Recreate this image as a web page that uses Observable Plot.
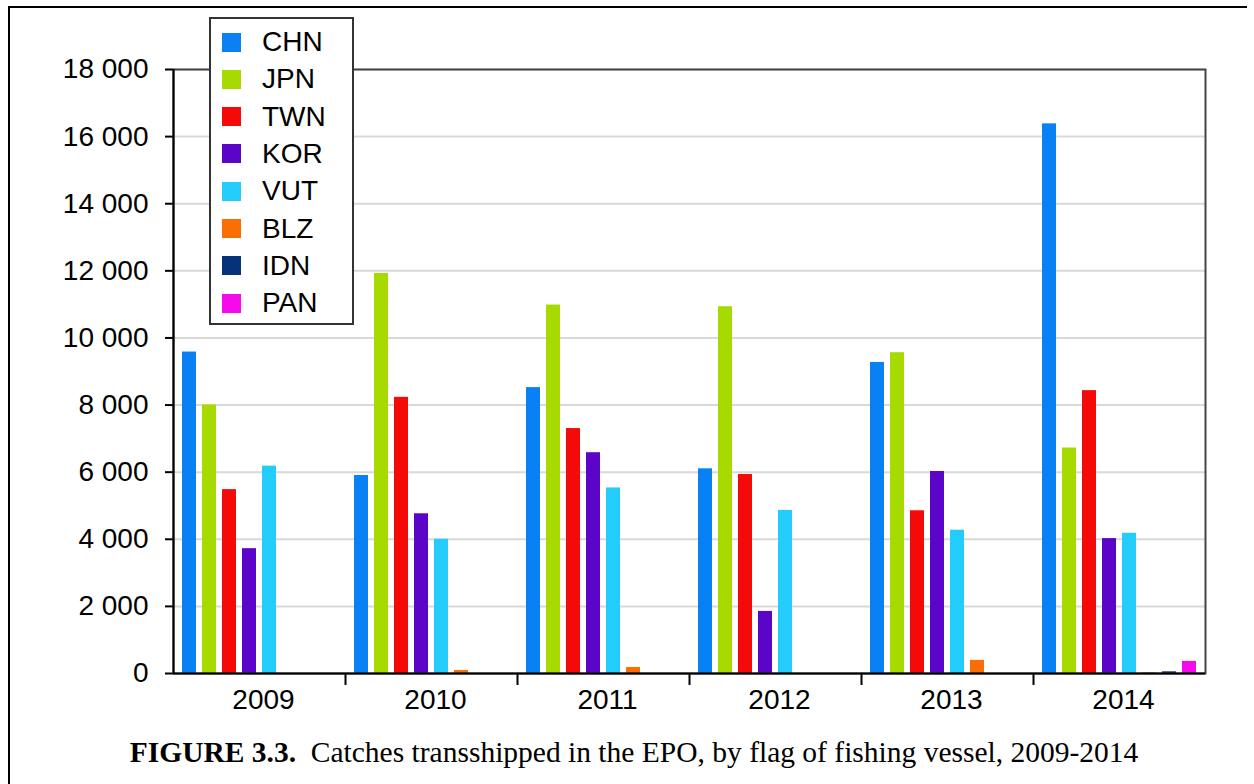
<!DOCTYPE html>
<html>
<head>
<meta charset="utf-8">
<script src="https://cdn.jsdelivr.net/npm/d3@7"></script>
<script src="https://cdn.jsdelivr.net/npm/@observablehq/plot@0.6"></script>
<style>
  html, body { margin: 0; padding: 0; background: #fff; }
  #wrap { position: relative; width: 1254px; height: 784px; overflow: hidden; background: #fff; }
  #outer { position: absolute; left: 8px; top: 6px; width: 1237px; height: 900px; border-top: 2px solid #000; border-left: 2px solid #000; }
  #chart { position: absolute; left: 0; top: 0; }
  #legend { position: absolute; left: 209px; top: 17px; width: 141px; height: 304px; border: 2px solid #333; background: #fff; font-family: "Liberation Sans", Arial, sans-serif; font-size: 28px; color: #000; }
  .row { position: absolute; left: 0; height: 30px; display: flex; align-items: center; }
  .sw { width: 19px; height: 19px; margin-left: 11px; margin-right: 21px; }
  #caption { position: absolute; left: 14px; width: 1240px; top: 736px; text-align: center; font-family: "Liberation Serif", "Times New Roman", serif; font-size: 29.5px; color: #000; white-space: pre; }
</style>
</head>
<body>
<div id="wrap">
  <div id="outer"></div>
  <div id="chart"></div>
  <div id="legend"></div>
  <div id="caption"><b>FIGURE 3.3.</b>  Catches transshipped in the EPO, by flag of fishing vessel, 2009-2014</div>
</div>
<script>
const years = ["2009", "2010", "2011", "2012", "2013", "2014"];
const flags = ["CHN", "JPN", "TWN", "KOR", "VUT", "BLZ", "IDN", "PAN"];
const flagColors = ["#0a80f5", "#a6da00", "#f50a0a", "#5a05c8", "#23ccfa", "#fa6e05", "#053278", "#f50aeb"];
const CHN = [9580, 5900, 8520, 6100, 9270, 16380];
const JPN = [8000, 11920, 10980, 10930, 9560, 6720];
const TWN = [5480, 8230, 7300, 5930, 4850, 8430];
const KOR = [3720, 4760, 6580, 1850, 6020, 4020];
const VUT = [6180, 4000, 5530, 4860, 4270, 4180];
const BLZ = [0, 90, 180, 0, 390, 20];
const IDN = [0, 0, 0, 0, 0, 50];
const PAN = [0, 0, 0, 0, 0, 360];
const yTicks = [0, 2000, 4000, 6000, 8000, 10000, 12000, 14000, 16000, 18000];

const series = {CHN, JPN, TWN, KOR, VUT, BLZ, IDN, PAN};
const inner = d3.scaleBand(flags, [0, 1]).paddingInner(0.3).paddingOuter(0.45);
const data = [];
years.forEach((year, i) => {
  flags.forEach(flag => {
    data.push({year, flag, value: series[flag][i], x1: i + inner(flag), x2: i + inner(flag) + inner.bandwidth()});
  });
});

const fmt = d => d3.format(",")(d).replace(/,/g, " ");

const chart = Plot.plot({
  width: 1254,
  height: 730,
  marginTop: 69,
  marginBottom: 57,
  marginLeft: 173,
  marginRight: 49,
  style: {fontFamily: "'Liberation Sans', Arial, sans-serif", fontSize: "28px", color: "#000", background: "transparent", overflow: "visible"},
  x: {type: "linear", domain: [0, years.length], ticks: d3.range(1, years.length), tickFormat: () => "", tickSize: 12, label: null},
  y: {domain: [0, 18000], ticks: yTicks, tickFormat: fmt, tickSize: 8, tickPadding: 17, label: null},
  color: {domain: flags, range: flagColors},
  marks: [
    Plot.ruleY(yTicks.slice(1), {stroke: "#d9d9d9", strokeWidth: 2}),
    Plot.rect(data, {x1: "x1", x2: "x2", y1: 0, y2: "value", fill: "flag"}),
    Plot.frame({stroke: "#444", strokeWidth: 2}),
    Plot.ruleX([0], {stroke: "#000", strokeWidth: 2}),
    Plot.ruleY([0], {stroke: "#000", strokeWidth: 2}),
    Plot.text(years, {x: (d, i) => i + 0.5, text: d => d, frameAnchor: "bottom", dy: 35, dx: 4, fontSize: 28, fill: "#000"})
  ]
});
chart.querySelectorAll("[aria-label='x-axis tick'] path, [aria-label='y-axis tick'] path").forEach(p => p.setAttribute("stroke-width", 2));
document.getElementById("chart").appendChild(chart);

const legend = document.getElementById("legend");
flags.forEach((f, i) => {
  const row = document.createElement("div");
  row.className = "row";
  row.style.top = (8 + i * 37.3) + "px";
  const sw = document.createElement("div");
  sw.className = "sw";
  sw.style.background = flagColors[i];
  const t = document.createElement("span");
  t.textContent = f;
  row.appendChild(sw);
  row.appendChild(t);
  legend.appendChild(row);
});
</script>
</body>
</html>
